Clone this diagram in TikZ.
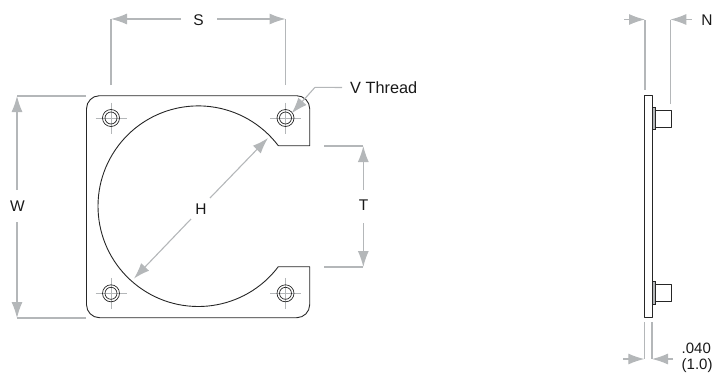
\documentclass[tikz,border=0pt]{standalone}
\usepackage{fontspec}
\setmainfont{Liberation Sans}
\usetikzlibrary{arrows.meta}
\definecolor{dimgray}{HTML}{B4B7B9}
\tikzset{
  x=1pt,y=-1pt,
  part/.style={draw=black!85,line width=0.9pt,line join=round},
  dimline/.style={draw=dimgray,line width=1.1pt},
  thin cross/.style={draw=dimgray,line width=0.7pt},
  dimarrow/.style={dimline,-{Latex[length=16pt,width=11pt,color=dimgray]}},
  lab/.style={inner sep=0pt,text=black!90,font=\fontsize{15.5}{17}\selectfont},
}
\begin{document}
\begin{tikzpicture}
\useasboundingbox (0,0) rectangle (713,373);
% plate outline (angles are measured with y pointing down)
\draw[part] (278.3,145.7) -- (309.7,145.7) -- (309.7,108.7) arc[start angle=0,end angle=-90,radius=13] -- (99.5,95.7)
  arc[start angle=-90,end angle=-180,radius=13] -- (86.5,304.7)
  arc[start angle=180,end angle=90,radius=13] -- (296.7,317.7)
  arc[start angle=90,end angle=0,radius=13] -- (309.7,266.7) -- (278.3,266.7)
  arc[start angle=37.1,end angle=322.9,radius=100.3];
% holes
\foreach \hx/\hy/\hn in {111/118/a,285.5/118/b,111/293.3/c,285.5/293.3/d}{
  \coordinate (hole\hn) at (\hx,\hy);
  \draw[thin cross] (\hx-15.5,\hy) -- (\hx+15.5,\hy) (\hx,\hy-15.5) -- (\hx,\hy+15.5);
  \draw[draw=black!85,line width=0.7pt] (hole\hn) circle[radius=8.5];
  \draw[draw=black!85,line width=0.7pt] (hole\hn) circle[radius=6];
}
% S
\coordinate (s1) at (111,19); \coordinate (s2) at (285.5,19);
\node[lab] (S) at (198.5,20) {S};
\draw[dimline] (111,85) -- (s1) (285.5,85) -- (s2);
\draw[dimarrow] (181,19) -- (s1);
\draw[dimarrow] (217,19) -- (s2);
% W
\coordinate (w1) at (17,96); \coordinate (w2) at (17,318);
\node[lab] (W) at (17.5,206) {W};
\draw[dimline] (86,96) -- (w1) (86,318) -- (w2);
\draw[dimarrow] (17,190) -- (w1);
\draw[dimarrow] (17,222) -- (w2);
% T
\coordinate (t1) at (363.3,146); \coordinate (t2) at (363.3,267);
\node[lab] (T) at (363.5,205) {T};
\draw[dimline] (324,146) -- (t1) (324,267) -- (t2);
\draw[dimarrow] (363.3,190) -- (t1);
\draw[dimarrow] (363.3,223) -- (t2);
% H
\coordinate (h1) at (268,138); \coordinate (h2) at (134,278.5);
\node[lab] (H) at (201,209.5) {H};
\draw[dimarrow] (210,198) -- (h1);
\draw[dimarrow] (191,219) -- (h2);
% V Thread
\node[lab,anchor=west,font=\fontsize{16.3}{18}\selectfont] (V) at (350,87.5) {V Thread};
\coordinate (v1) at (315,87.3); \coordinate (v2) at (291.7,113.3);
\draw[dimline] (V.west)++(-8,0) -- (v1);
\draw[dimarrow] (v1) -- (v2);
% side view
\draw[part] (644.3,95.3) rectangle (652,317.3);
\foreach \wy in {107.3,281.7}{
  \draw[draw=black!85,fill=dimgray,line width=0.9pt] (652,\wy) rectangle (655.7,\wy+22.5);
  \draw[part] (655.7,\wy+2.7) rectangle (671,\wy+20);
}
% N
\coordinate (n1) at (645,19.5); \coordinate (n2) at (670.3,19.5);
\node[lab] (N) at (707,20) {N};
\draw[dimline] (645,90) -- (n1) (670.3,104) -- (n2);
\draw[dimarrow] (624,19.5) -- (n1);
\draw[dimarrow] (691.7,19.5) -- (n2);
% .040
\coordinate (c1) at (644.3,359); \coordinate (c2) at (652,359);
\draw[dimline] (644.3,322) -- (c1) (652,322) -- (c2);
\draw[dimarrow] (623,359) -- (c1);
\draw[dimarrow] (673,359) -- (c2);
\node[lab,anchor=west,font=\fontsize{15}{17}\selectfont] (d1) at (681.5,348) {.040};
\node[lab,anchor=west,font=\fontsize{15}{17}\selectfont] (d2) at (681.5,366) {(1.0)};
\end{tikzpicture}
\end{document}
